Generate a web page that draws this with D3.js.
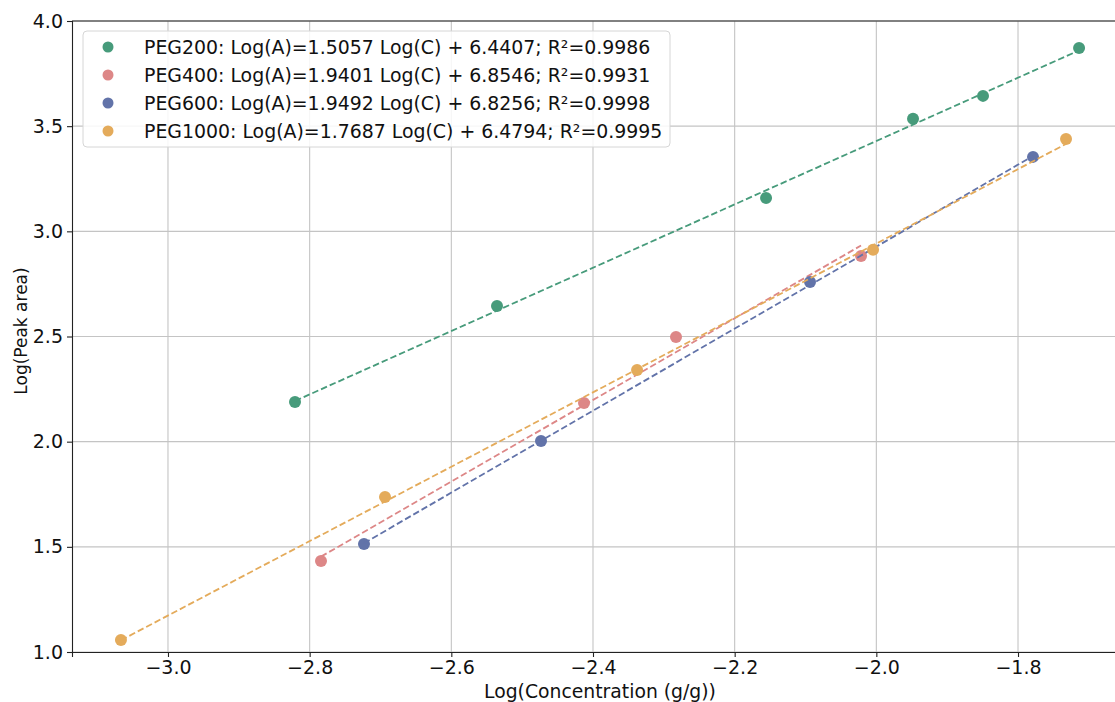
<!DOCTYPE html>
<html><head><meta charset="utf-8">
<script src="https://cdn.jsdelivr.net/npm/d3@7/dist/d3.min.js"></script>
<style>body{margin:0;background:#fff}svg{display:block}text{font-family:"DejaVu Sans",sans-serif}</style>
</head><body><svg id="c" width="1115" height="702"></svg>
<script>
const seriesNames = ["PEG200","PEG400","PEG600","PEG1000"];
const slopes = [1.5057, 1.9401, 1.9492, 1.7687];
const intercepts = [6.4407, 6.8546, 6.8256, 6.4794];
const r2 = ["0.9986","0.9931","0.9998","0.9995"];
const peg200X = [-2.8207, -2.5355, -2.1557, -1.9482, -1.8494, -1.7138];
const peg200Y = [2.189, 2.645, 3.159, 3.535, 3.644, 3.872];
const peg400X = [-2.784, -2.4127, -2.2828, -2.0216];
const peg400Y = [1.433, 2.184, 2.498, 2.883];
const peg600X = [-2.7233, -2.4734, -2.0936, -1.7788];
const peg600Y = [1.514, 2.003, 2.759, 3.354];
const peg1000X = [-3.0664, -2.6936, -2.3378, -2.0046, -1.7322];
const peg1000Y = [1.057, 1.737, 2.341, 2.912, 3.439];
const xTicks = [-3.0, -2.8, -2.6, -2.4, -2.2, -2.0, -1.8];
const yTicks = [1.0, 1.5, 2.0, 2.5, 3.0, 3.5, 4.0];
const colors = ["#479b7b", "#dd8787", "#6273a9", "#e4ab5b"];

const xs = [peg200X, peg400X, peg600X, peg1000X];
const ys = [peg200Y, peg400Y, peg600Y, peg1000Y];

const svg = d3.select("#c");
const L = 72, R = 1130, T = 21, B = 652;
const x = d3.scaleLinear().domain([-3.1355, -1.6419]).range([L, R]);
const y = d3.scaleLinear().domain([1.0, 4.0]).range([B, T]);

// grid
const g = svg.append("g");
g.selectAll("line.gx").data(xTicks).enter().append("line")
  .attr("x1", d => x(d)).attr("x2", d => x(d)).attr("y1", T).attr("y2", B)
  .attr("stroke", "#c4c4c4").attr("stroke-width", 1.1);
g.selectAll("line.gy").data(yTicks).enter().append("line")
  .attr("x1", L).attr("x2", R).attr("y1", d => y(d)).attr("y2", d => y(d))
  .attr("stroke", "#c4c4c4").attr("stroke-width", 1.1);

// series
seriesNames.forEach((n, i) => {
  const xd = xs[i], yd = ys[i];
  const pts = xd.map((v, j) => ({x: v, y: yd[j]}));
  svg.append("g").selectAll("circle").data(pts).enter().append("circle")
    .attr("cx", d => x(d.x)).attr("cy", d => y(d.y)).attr("r", 6)
    .attr("fill", colors[i]);
  const ext = d3.extent(xd);
  const fit = ext.map(v => ({x: v, y: slopes[i] * v + intercepts[i]}));
  svg.append("path").datum(fit)
    .attr("d", d3.line().x(d => x(d.x)).y(d => y(d.y)))
    .attr("fill", "none").attr("stroke", colors[i]).attr("stroke-width", 1.8)
    .attr("stroke-dasharray", "6.5,3");
});

// axes
const xAxis = d3.axisBottom(x).tickValues(xTicks).tickSize(5).tickPadding(3.5)
  .tickFormat(d => d3.format(".1f")(d).replace("-", "\u2212"));
const yAxis = d3.axisLeft(y).tickValues(yTicks).tickSize(5).tickPadding(4)
  .tickFormat(d3.format(".1f"));
const gx = svg.append("g").attr("transform", `translate(0,${B})`).call(xAxis);
const gy = svg.append("g").attr("transform", `translate(${L},0)`).call(yAxis);
[gx, gy].forEach(a => {
  a.select(".domain").attr("stroke", "#222").attr("stroke-width", 1.1);
  a.selectAll(".tick line").attr("stroke", "#222").attr("stroke-width", 1.1);
  a.selectAll(".tick text").attr("font-size", 19).attr("fill", "#111")
    .attr("font-family", "DejaVu Sans, sans-serif");
});
svg.append("line").attr("x1", L).attr("x2", R).attr("y1", T).attr("y2", T)
  .attr("stroke", "#222").attr("stroke-width", 1.1);

svg.append("text").attr("x", 600).attr("y", 698).attr("text-anchor", "middle")
  .attr("font-size", 18.8).attr("fill", "#111").text("Log(Concentration (g/g))");
svg.append("text").attr("transform", `translate(27,331) rotate(-90)`)
  .attr("text-anchor", "middle").attr("font-size", 17).attr("fill", "#111").text("Log(Peak area)");

// legend
const lg = svg.append("g");
lg.append("rect").attr("x", 83).attr("y", 31).attr("width", 587).attr("height", 116)
  .attr("rx", 4).attr("fill", "#fff").attr("fill-opacity", 0.85)
  .attr("stroke", "#d6d6d6").attr("stroke-width", 1);
seriesNames.forEach((n, i) => {
  const yy = 47 + i * 28;
  lg.append("circle").attr("cx", 108).attr("cy", yy).attr("r", 5.5).attr("fill", colors[i]);
  lg.append("text").attr("x", 144).attr("y", yy + 6.5).attr("font-size", 18.9).attr("fill", "#111")
    .text(`${n}: Log(A)=${slopes[i].toFixed(4)} Log(C) + ${intercepts[i].toFixed(4)}; R\u00b2=${r2[i]}`);
});
</script></body></html>
